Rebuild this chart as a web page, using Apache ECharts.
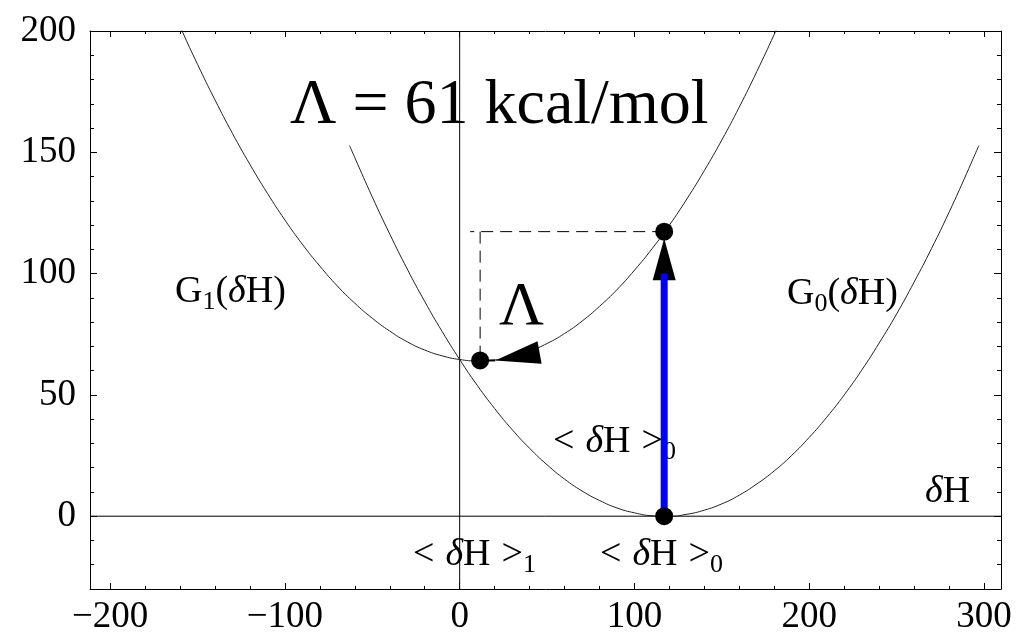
<!DOCTYPE html>
<html>
<head>
<meta charset="utf-8">
<script src="https://cdn.jsdelivr.net/npm/echarts@6/dist/echarts.min.js"></script>
<style>
  html, body { margin: 0; padding: 0; background: #fff; }
  #chart { width: 1018px; height: 636px; }
</style>
</head>
<body>
<div id="chart"></div>
<script>
// Axis ranges (δH on x, free energy on y)
const xRange = [-211.5, 309.7];
const yRange = [-30, 200];

// Tick positions and labels
const xMajorTicks = [-200, -100, 0, 100, 200, 300];
const xMinorTicks = [-180, -160, -140, -120, -80, -60, -40, -20, 20, 40, 60, 80,
                     120, 140, 160, 180, 220, 240, 260, 280];
const yMajorTicks = [0, 50, 100, 150, 200];
const yMinorTicks = [-20, -10, 10, 20, 30, 40, 60, 70, 80, 90, 110, 120, 130, 140,
                     160, 170, 180, 190];

// G0(δH): parabola with its minimum at <δH>0
const g0Curve = [[-63, 152.8], [-60, 147.8], [-50, 131.6], [-40, 116.3], [-30, 101.9],
  [-20, 88.5], [-10, 76.1], [0, 64.6], [10, 54.0], [20, 44.4], [30, 35.7], [40, 28.0],
  [50, 21.2], [60, 15.3], [70, 10.4], [80, 6.5], [90, 3.4], [100, 1.4], [110, 0.2],
  [120, 0.0], [130, 0.8], [140, 2.5], [150, 5.1], [160, 8.7], [170, 13.3], [180, 18.7],
  [190, 25.1], [200, 32.5], [210, 40.8], [220, 50.0], [230, 60.2], [240, 71.4],
  [250, 83.4], [260, 96.5], [270, 110.4], [280, 125.3], [290, 141.2], [297, 152.8]];

// G1(δH): parabola with its minimum at <δH>1
const g1Curve = [[-170, 218.5], [-159, 200.3], [-150, 186.3], [-140, 171.6], [-130, 157.8],
  [-120, 145.0], [-110, 133.1], [-100, 122.1], [-90, 112.1], [-80, 103.1], [-70, 94.9],
  [-60, 87.8], [-50, 81.6], [-40, 76.3], [-30, 71.9], [-20, 68.5], [-10, 66.1], [0, 64.6],
  [10, 64.0], [20, 64.4], [30, 65.7], [40, 68.0], [50, 71.2], [60, 75.3], [70, 80.4],
  [80, 86.5], [90, 93.4], [100, 101.4], [110, 110.2], [120, 120.0], [130, 130.8],
  [140, 142.5], [150, 155.1], [160, 168.7], [170, 183.3], [180, 198.7], [190, 215.1]];

// Key points: minimum of G1, G1 at <δH>0, minimum of G0
const keyPoints = [[11.7, 64.2], [117, 117.3], [117, 0]];
// Dashed guide from G1(<δH>0) across and down to the G1 minimum
const guideHorizontal = [[117, 117.3], [6, 117.3]];
const guideVertical = [[11.7, 117.3], [11.7, 64.2]];
// Vertical energy gap at <δH>0
const gapBar = [[117, 0], [117, 100]];
// Short stem of the Λ arrow
const lambdaStem = [[11.7, 64.2], [20.3, 64.2]];
// Arrow heads: tip x, tip y, base-centre x, base-centre y
const arrowHeads = [[117, 114.5, 117, 97.3], [20.3, 64.2, 45.7, 67.5]];

const serif = "'Liberation Serif', 'Times New Roman', serif";
const black = '#000';

const chart = echarts.init(document.getElementById('chart'), null, { renderer: 'canvas' });

const fmt = v => String(v).replace('-', '\u2212');

function xAxisDef(position, ticks, len, withLine, withLabel) {
  return {
    type: 'value', position, min: xRange[0], max: xRange[1],
    axisLine: { show: withLine, onZero: false, lineStyle: { color: black, width: 1 } },
    axisTick: { show: true, inside: true, length: len, customValues: ticks,
                lineStyle: { color: black, width: 1 } },
    axisLabel: withLabel
      ? { show: true, customValues: ticks, formatter: fmt, fontFamily: serif,
          fontSize: 37, color: black, margin: 10 }
      : { show: false },
    splitLine: { show: false }
  };
}
function yAxisDef(position, ticks, len, withLine, withLabel) {
  return {
    type: 'value', position, min: yRange[0], max: yRange[1],
    axisLine: { show: withLine, onZero: false, lineStyle: { color: black, width: 1 } },
    axisTick: { show: true, inside: true, length: len, customValues: ticks,
                lineStyle: { color: black, width: 1 } },
    axisLabel: withLabel
      ? { show: true, customValues: ticks, formatter: fmt, fontFamily: serif,
          fontSize: 37, color: black, margin: 14 }
      : { show: false },
    splitLine: { show: false }
  };
}

// Rich text styles for the annotations
const richStyles = {
  n: { fontFamily: serif, fontSize: 38, lineHeight: 46, fill: black, color: black },
  i: { fontFamily: serif, fontSize: 38, fontStyle: 'italic', lineHeight: 46, fill: black, color: black },
  s: { fontFamily: serif, fontSize: 26, lineHeight: 20, verticalAlign: 'bottom', fill: black, color: black },
  g: { fontFamily: serif, fontSize: 38, lineHeight: 46, width: 11 }
};
function richLabel(x, baseline, text) {
  return {
    type: 'text', x: x, y: baseline - 35.8, z: 1,
    style: { text: text, rich: richStyles, verticalAlign: 'top', align: 'left', fill: black }
  };
}
const bracketText = sub => '{n|<}{g| }{i|δ}{n|H}{g| }{n|>}{s|' + sub + '}';

const lineSeries = (data, color, width, type, z) => ({
  type: 'line', data, xAxisIndex: 0, yAxisIndex: 0, symbol: 'none', silent: true,
  lineStyle: { color, width, type }, z, animation: false
});

chart.setOption({
  animation: false,
  backgroundColor: '#fff',
  grid: { left: 90, right: 17, top: 31, bottom: 43, containLabel: false },
  xAxis: [
    xAxisDef('bottom', xMajorTicks, 6, true, true),
    xAxisDef('bottom', xMinorTicks, 3, false, false),
    xAxisDef('top', xMajorTicks, 6, true, false),
    xAxisDef('top', xMinorTicks, 3, false, false)
  ],
  yAxis: [
    yAxisDef('left', yMajorTicks, 7, true, true),
    yAxisDef('left', yMinorTicks, 4, false, false),
    yAxisDef('right', yMajorTicks, 7, true, false),
    yAxisDef('right', yMinorTicks, 4, false, false)
  ],
  graphic: [
    { type: 'text', x: 290, y: 106, z: 1,
      style: { text: 'Λ = 61 kcal/mol', font: '64px ' + serif, fill: black, verticalAlign: 'middle' } },
    { type: 'text', x: 499, y: 308, z: 1,
      style: { text: 'Λ', font: '62px ' + serif, fill: black, verticalAlign: 'middle' } },
    richLabel(175, 305, '{n|G}{s|1}{n|(}{i|δ}{n|H)}'),
    richLabel(787, 307, '{n|G}{s|0}{n|(}{i|δ}{n|H)}'),
    richLabel(553, 455, bracketText('0')),
    richLabel(413, 568, bracketText('1')),
    richLabel(600, 568, bracketText('0')),
    richLabel(925, 505, '{i|δ}{n|H}')
  ],
  series: [
    lineSeries([[xRange[0], 0], [xRange[1], 0]], black, 1, 'solid', 3),
    lineSeries([[0, yRange[0]], [0, yRange[1]]], black, 1, 'solid', 3),
    Object.assign(lineSeries(g0Curve, '#222', 1, 'solid', 4), { smooth: true }),
    Object.assign(lineSeries(g1Curve, '#222', 1, 'solid', 4), { smooth: true }),
    lineSeries(guideHorizontal, black, 1, [12, 7], 5),
    lineSeries(guideVertical, black, 1, [12, 7], 5),
    lineSeries(lambdaStem, black, 2, 'solid', 6),
    {
      type: 'custom', xAxisIndex: 0, yAxisIndex: 0, z: 6, silent: true,
      dimensions: ['tx', 'ty', 'bx', 'by'],
      encode: { x: [0, 2], y: [1, 3] },
      data: arrowHeads,
      renderItem: function (params, api) {
        const tip = api.coord([api.value(0), api.value(1)]);
        const base = api.coord([api.value(2), api.value(3)]);
        const dx = tip[0] - base[0], dy = tip[1] - base[1];
        const len = Math.hypot(dx, dy);
        const nx = -dy / len, ny = dx / len, hw = 11.5;
        return {
          type: 'polygon',
          shape: { points: [tip, [base[0] + nx * hw, base[1] + ny * hw],
                                 [base[0] - nx * hw, base[1] - ny * hw]] },
          style: { fill: black }
        };
      }
    },
    lineSeries(gapBar, '#0000ff', 7, 'solid', 7),
    {
      type: 'scatter', data: keyPoints, xAxisIndex: 0, yAxisIndex: 0, z: 8, silent: true,
      symbol: 'circle', symbolSize: 18, itemStyle: { color: black, opacity: 1 }
    }
  ]
});
</script>
</body>
</html>
